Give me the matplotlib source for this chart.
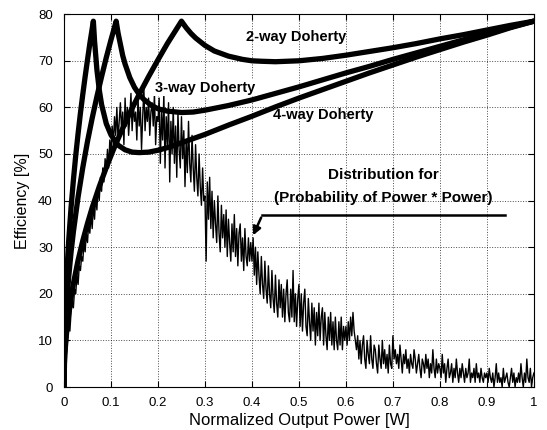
import matplotlib
matplotlib.use('Agg')
import matplotlib.pyplot as plt
import numpy as np

plt.rcParams['font.family'] = ['Liberation Sans', 'DejaVu Sans']

# Doherty efficiency curves (normalized output power vs efficiency %)
x_2way = [0, 0.001, 0.002, 0.003, 0.005, 0.007, 0.01, 0.015, 0.02, 0.03, 0.04, 0.05, 0.06,
          0.075, 0.09, 0.105, 0.12, 0.14, 0.16, 0.18, 0.2, 0.22, 0.235, 0.25,
          0.26, 0.27, 0.28, 0.3, 0.32, 0.35, 0.38, 0.4, 0.42, 0.45, 0.5, 0.55, 0.6,
          0.65, 0.7, 0.75, 0.8, 0.85, 0.9, 0.95, 1.0]
eff_2way = [0, 5.0, 7.0, 8.6, 11.1, 13.1, 15.7, 19.2, 22.2, 27.2, 31.4, 35.1, 38.5,
            43.0, 47.1, 50.9, 54.4, 58.8, 62.8, 66.6, 70.2, 73.7, 76.1, 78.5,
            77.1, 75.9, 74.9, 73.3, 72.1, 71.0, 70.3, 70.0, 69.9, 69.8, 70.0, 70.5, 71.2,
            72.0, 72.8, 73.7, 74.7, 75.6, 76.6, 77.6, 78.5]

x_3way = [0, 0.001, 0.002, 0.003, 0.005, 0.007, 0.01, 0.015, 0.02, 0.03, 0.04, 0.05, 0.06,
          0.07, 0.08, 0.09, 0.1, 0.105, 0.111, 0.115, 0.125, 0.13, 0.14, 0.15, 0.16,
          0.17, 0.185, 0.2, 0.22, 0.25, 0.275, 0.3, 0.35, 0.4, 0.45, 0.5, 0.55, 0.6,
          0.65, 0.7, 0.75, 0.8, 0.85, 0.9, 0.95, 1.0]
eff_3way = [0, 7.45, 10.5, 12.9, 16.7, 19.7, 23.6, 28.9, 33.3, 40.8, 47.1, 52.7, 57.7,
            62.3, 66.6, 70.7, 74.5, 76.3, 78.5, 76.0, 71.1, 69.3, 66.4, 64.3, 62.8,
            61.7, 60.5, 59.7, 59.2, 58.9, 59.0, 59.4, 60.4, 61.6, 63.0, 64.4, 65.9, 67.4,
            68.8, 70.3, 71.7, 73.1, 74.5, 75.9, 77.2, 78.5]

x_4way = [0, 0.001, 0.002, 0.003, 0.005, 0.007, 0.01, 0.015, 0.02, 0.025, 0.03, 0.035,
          0.04, 0.045, 0.05, 0.055, 0.0625, 0.065, 0.07, 0.075, 0.08, 0.09, 0.1, 0.115,
          0.13, 0.145, 0.16, 0.18, 0.2, 0.225, 0.25, 0.3, 0.35, 0.4, 0.45, 0.5, 0.55,
          0.6, 0.65, 0.7, 0.75, 0.8, 0.85, 0.9, 0.95, 1.0]
eff_4way = [0, 9.9, 14.0, 17.2, 22.2, 26.3, 31.4, 38.5, 44.4, 49.7, 54.4, 58.8,
            62.8, 66.6, 70.2, 73.7, 78.5, 74.3, 68.1, 63.8, 60.6, 56.5, 54.1, 51.9,
            50.9, 50.4, 50.3, 50.4, 50.8, 51.5, 52.4, 54.2, 56.2, 58.1, 60.1, 62.0, 63.8,
            65.6, 67.4, 69.1, 70.8, 72.4, 74.0, 75.5, 77.1, 78.5]

# distribution (probability of power * power), sampled every 0.0025
dist = [
    0, 4, 7, 10, 13, 12, 16, 18, 17, 21, 20, 24, 22, 26, 25, 28, 27, 31, 29, 33,
    31, 35, 33, 37, 34, 39, 36, 41, 38, 43, 40, 45, 42, 47, 44, 49, 46, 51, 47, 53,
    50, 56, 52, 58, 54, 60, 53, 57, 61, 55, 59, 52, 62, 56, 60, 54, 58, 63, 55, 61,
    57, 59, 53, 62, 56, 60, 51, 58, 64, 55, 60, 57, 62, 54, 59, 61, 56, 63, 52, 58,
    57, 62, 48, 59, 53, 63, 47, 58, 52, 61, 44, 57, 50, 60, 48, 56, 45, 59, 51, 47,
    58, 49, 55, 43, 53, 46, 57, 48, 44, 54, 47, 42, 52, 45, 41, 50, 43, 39, 47, 40,
    41, 27, 44, 36, 45, 34, 42, 32, 40, 35, 31, 41, 33, 29, 39, 32, 37, 30, 38, 28,
    36, 31, 27, 35, 29, 37, 28, 34, 26, 33, 35, 27, 32, 25, 34, 28, 26, 32, 27, 31,
    27, 32, 24, 30, 22, 29, 24, 20, 28, 22, 19, 27, 21, 18, 26, 20, 17, 25, 19, 16,
    24, 18, 15, 23, 17, 22, 15, 21, 14, 20, 23, 16, 14, 21, 15, 25, 14, 20, 13, 19,
    22, 13, 20, 12, 18, 21, 13, 11, 19, 14, 10, 18, 12, 17, 9, 16, 11, 18, 10, 15,
    17, 9, 16, 11, 8, 15, 10, 16, 9, 14, 8, 15, 10, 8, 14, 9, 15, 8, 13, 10,
    13, 9, 14, 10, 15, 11, 16, 12, 10, 8, 11, 6, 10, 5, 9, 11, 6, 4, 10, 7,
    5, 11, 6, 4, 9, 8, 5, 3, 9, 6, 4, 10, 5, 8, 4, 7, 3, 9, 5, 4,
    11, 6, 8, 5, 7, 4, 9, 6, 3, 7, 5, 8, 4, 6, 3, 7, 5, 4, 8, 6,
    3, 5, 7, 4, 2, 6, 5, 3, 7, 4, 6, 2, 5, 3, 8, 4, 2, 6, 3, 5,
    4, 2, 7, 3, 5, 1, 4, 6, 2, 3, 5, 1, 4, 2, 6, 3, 1, 4, 2, 5,
    3, 1, 4, 2, 3, 6, 1, 3, 2, 4, 1, 5, 2, 3, 1, 4, 2, 1, 3, 2,
    3, 1, 4, 2, 1, 3, 0, 2, 5, 1, 3, 1, 2, 0, 4, 1, 2, 3, 1, 0,
    2, 4, 1, 3, 0, 2, 1, 3, 1, 5, 2, 0, 3, 1, 6, 2, 1, 4, 0, 2,
    3]
x_dist = np.arange(len(dist)) * 0.0025

fig = plt.figure(figsize=(5.47, 4.30), dpi=100)
ax = fig.add_axes([0.117, 0.1, 0.859, 0.867])

ax.plot(x_dist, dist, color='black', lw=1.0)
for xs, ys in [(x_2way, eff_2way), (x_3way, eff_3way), (x_4way, eff_4way)]:
    ax.plot(xs, ys, color='black', lw=3.8, solid_joinstyle='round', solid_capstyle='round')

ax.set_xlim(0, 1)
ax.set_ylim(0, 80)
ax.set_xticks(np.arange(0, 1.01, 0.1))
ax.set_xticklabels(['0', '0.1', '0.2', '0.3', '0.4', '0.5', '0.6', '0.7', '0.8', '0.9', '1'])
ax.set_yticks(range(0, 81, 10))
ax.tick_params(direction='in', top=True, right=True, labelsize=9.5, length=4)
ax.tick_params(axis='x', pad=7)
ax.tick_params(axis='y', pad=8)
ax.grid(True, color='black', linestyle=':', linewidth=0.7, alpha=0.7)
ax.set_xlabel('Normalized Output Power [W]', fontsize=12, labelpad=3)
ax.set_ylabel('Efficiency [%]', fontsize=11.5, labelpad=6)

tk = dict(fontweight='bold', ha='center', va='center')
bb = dict(facecolor='white', edgecolor='none', pad=1.0)
ax.text(0.495, 75.0, '2-way Doherty', fontsize=10.5, **tk)
ax.text(0.30, 64.2, '3-way Doherty', fontsize=10.5, bbox=bb, **tk)
ax.text(0.551, 58.4, '4-way Doherty', fontsize=10.5, **tk)
ax.text(0.679, 45.5, 'Distribution for', fontsize=11, **tk)
ax.text(0.679, 40.6, '(Probability of Power * Power)', fontsize=11, **tk)

# arrow pointing at the distribution
ax.plot([0.938, 0.421], [36.9, 36.9], color='black', lw=1.8)
ax.annotate('', xy=(0.40, 32.0), xytext=(0.422, 36.9),
            arrowprops=dict(arrowstyle='-|>', color='black', lw=1.8, mutation_scale=12))

fig.savefig('out.png', dpi=100)
